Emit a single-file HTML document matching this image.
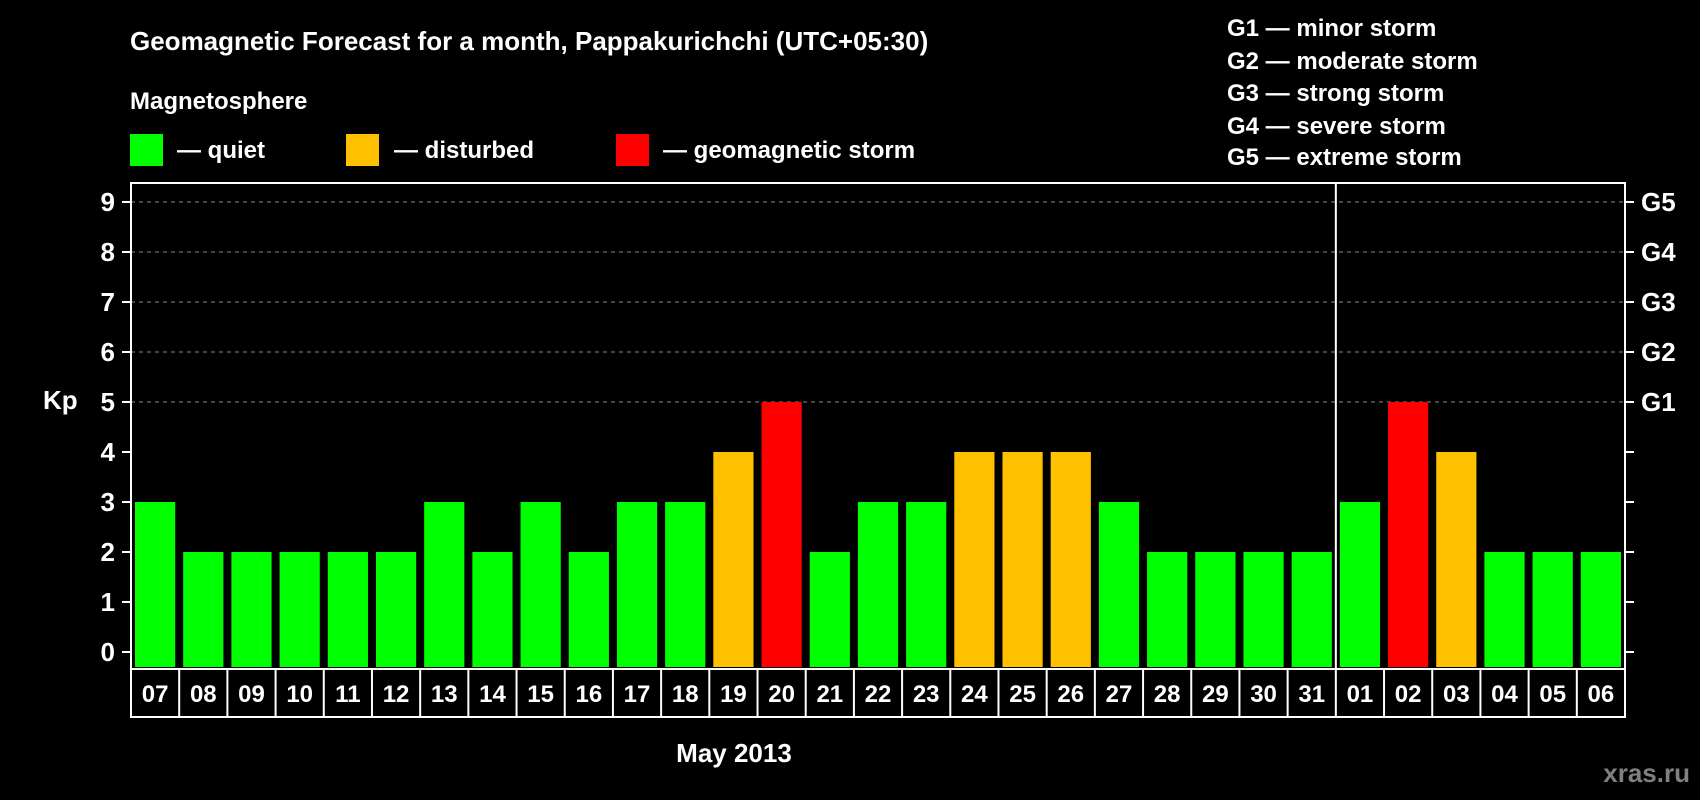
<!DOCTYPE html>
<html><head><meta charset="utf-8"><style>
html,body{margin:0;padding:0;background:#000;width:1700px;height:800px;overflow:hidden}
svg{display:block}
text{font-family:"Liberation Sans",Arial,sans-serif;font-weight:bold;fill:#fff}
</style></head><body>
<svg id="chart" width="1700" height="800">
<text x="130" y="50" font-size="26">Geomagnetic Forecast for a month, Pappakurichchi (UTC+05:30)</text>
<text x="130" y="109" font-size="24">Magnetosphere</text>
<rect x="130" y="134" width="33" height="32" fill="#00ff00"/>
<text x="177" y="158" font-size="24">— quiet</text>
<rect x="346" y="134" width="33" height="32" fill="#ffc000"/>
<text x="394" y="158" font-size="24">— disturbed</text>
<rect x="616" y="134" width="33" height="32" fill="#ff0000"/>
<text x="663" y="158" font-size="24">— geomagnetic storm</text>
<g font-size="24">
<text x="1227" y="36">G1 — minor storm</text>
<text x="1227" y="69">G2 — moderate storm</text>
<text x="1227" y="101">G3 — strong storm</text>
<text x="1227" y="134">G4 — severe storm</text>
<text x="1227" y="165">G5 — extreme storm</text>
</g>
<text x="43" y="409" font-size="26">Kp</text>
<text x="734" y="762" font-size="26" text-anchor="middle">May 2013</text>
<text x="1690" y="782" font-size="26" text-anchor="end" style="fill:#808080">xras.ru</text>
<g id="plot"></g>
</svg>
<script>
const days=["07","08","09","10","11","12","13","14","15","16","17","18","19","20","21","22","23","24","25","26","27","28","29","30","31","01","02","03","04","05","06"];
const kpValues=[3,2,2,2,2,2,3,2,3,2,3,3,4,5,2,3,3,4,4,4,3,2,2,2,2,3,5,4,2,2,2];
const yTicks=[0,1,2,3,4,5,6,7,8,9];
const gLabels=["G1","G2","G3","G4","G5"];
const monthBreak=25;

const NS="http://www.w3.org/2000/svg";
const g=document.getElementById('plot');
const L=131,R=1625,T=183,B=669,LB=717;
const y0=652,unit=50;
const y=v=>y0-v*unit;
const cw=(R-L)/days.length;
const x=i=>L+i*cw;
function mk(t,a){const e=document.createElementNS(NS,t);for(const k in a)e.setAttribute(k,a[k]);g.appendChild(e);return e;}
// grid
yTicks.forEach(v=>{
  if(v>=5){const l=mk('line',{x1:L,x2:R,y1:y(v),y2:y(v),stroke:'#888','stroke-dasharray':'4,4','stroke-width':1});
  
  }
  const t1=mk('line',{x1:L-9,x2:L,y1:y(v),y2:y(v),stroke:'#fff','stroke-width':2});
  
  
  const t2=mk('line',{x1:R,x2:R+9,y1:y(v),y2:y(v),stroke:'#fff','stroke-width':2});
  
  
  const tl=mk('text',{x:115,y:y(v)+9,'font-size':26,'text-anchor':'end'});tl.textContent=v;
  
  
});
gLabels.forEach((s,i)=>{
  const t=mk('text',{x:1641,y:y(5+i)+9,'font-size':26});t.textContent=s;
  
  
});
// bars
kpValues.forEach((v,i)=>{
  const c=v>=5?'#ff0000':v>=4?'#ffc000':'#00ff00';
  const b=mk('rect',{x:x(i)+4,y:y(v),width:cw-8,height:B-2-y(v),fill:c});
  
  
  const t=mk('text',{x:x(i)+cw/2,y:702,'font-size':24,'text-anchor':'middle'});t.textContent=days[i];
  
  
  if(i>0){const d=mk('line',{x1:x(i),x2:x(i),y1:B,y2:LB,stroke:'#fff','stroke-width':2});
  
  }
});
const sep=mk('line',{x1:x(monthBreak),x2:x(monthBreak),y1:T,y2:B,stroke:'#fff','stroke-width':2});


const fr=mk('rect',{x:L,y:T,width:R-L,height:LB-T,fill:'none',stroke:'#fff','stroke-width':2});


const hl=mk('line',{x1:L,x2:R,y1:B,y2:B,stroke:'#fff','stroke-width':2});


</script>
</body></html>
